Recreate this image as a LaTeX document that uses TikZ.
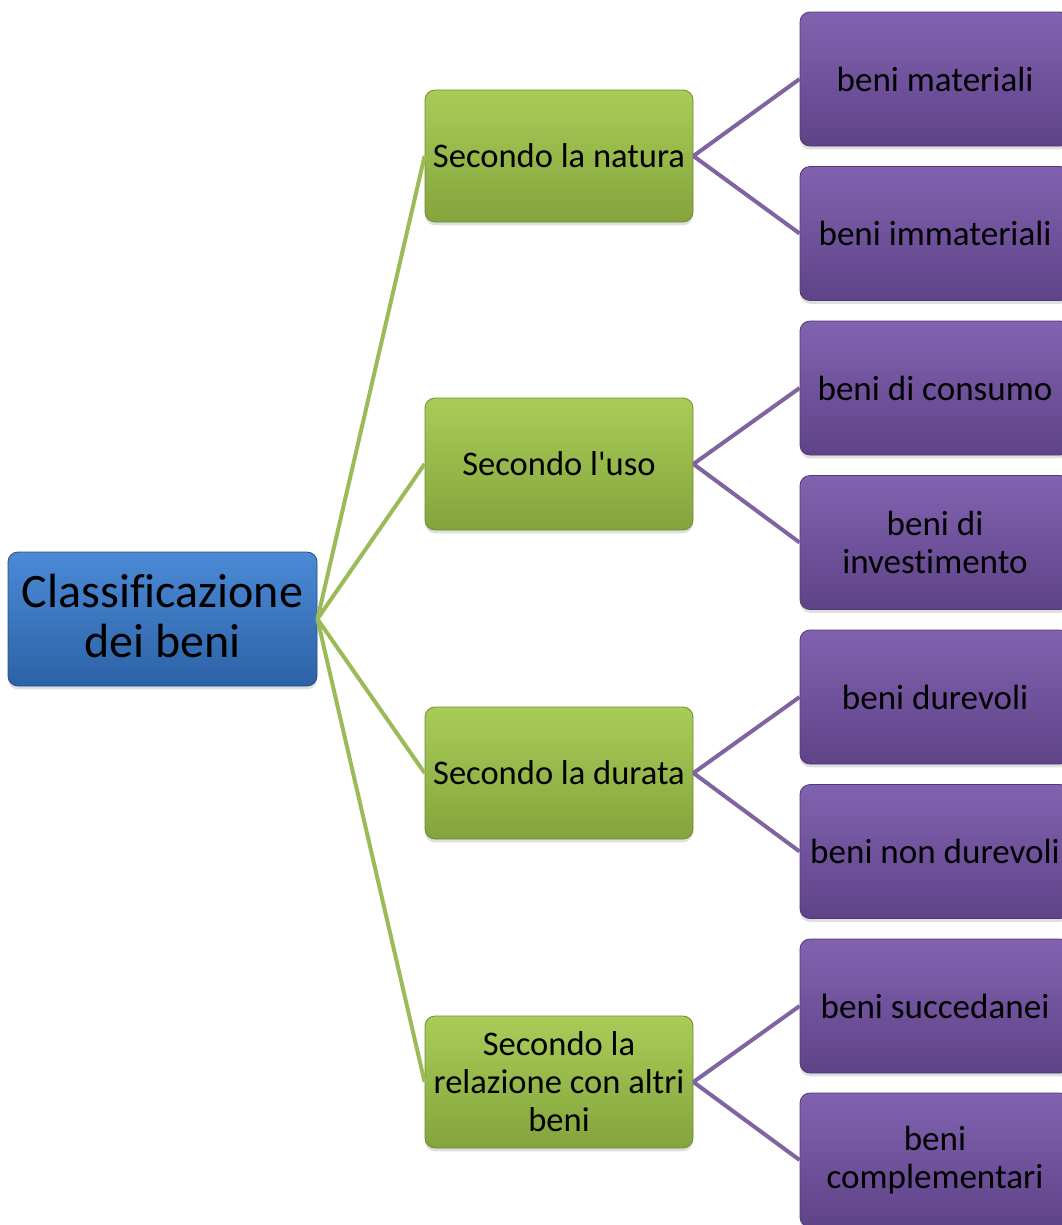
\documentclass[tikz,border=0pt]{standalone}
\usepackage{fontspec}
\setmainfont[Ligatures={NoCommon}]{Carlito}
\usetikzlibrary{shadows}
\definecolor{blueT}{HTML}{4C8AD6}
\definecolor{blueB}{HTML}{2C62A6}
\definecolor{greenT}{HTML}{A9CC58}
\definecolor{greenB}{HTML}{84A43C}
\definecolor{purpT}{HTML}{8162B0}
\definecolor{purpB}{HTML}{5F4388}
\definecolor{greenL}{HTML}{9BBB59}
\definecolor{purpL}{HTML}{8064A2}
\tikzset{
  boxbase/.style={rounded corners=7.5pt, inner sep=2pt, align=center, text=black,
    drop shadow={opacity=0.25, shadow xshift=0pt, shadow yshift=-2.5pt}},
  rootbox/.style={boxbase, top color=blueT, bottom color=blueB, draw=blueB!80!black,
    line width=0.6pt, minimum width=231.75pt, minimum height=100.5pt},
  roottext/.style={align=center, inner sep=0pt, text=black,
    font=\fontsize{36pt}{37.5pt}\selectfont},
  midbox/.style={boxbase, top color=greenT, bottom color=greenB, draw=greenB!85!black,
    line width=0.6pt, minimum width=201pt, minimum height=99pt,
    font=\fontsize{25.9pt}{28.5pt}\selectfont},
  leafbox/.style={boxbase, top color=purpT, bottom color=purpB, draw=purpB!85!black,
    line width=0.6pt, minimum width=202.5pt, minimum height=100.5pt,
    font=\fontsize{26.3pt}{28.5pt}\selectfont},
  glink/.style={draw=greenL, line width=3pt},
  plink/.style={draw=purpL, line width=3pt}
}
\begin{document}
\begin{tikzpicture}[x=0.75pt,y=-0.75pt]
\useasboundingbox (0,0) rectangle (1062,1225);
% root: box, then its text placed slightly above centre
\node[rootbox] (root) at (162.5,619) {};
\node[roottext] (rootlabel) at ([yshift=2pt]root.center) {Classificazione\\dei beni};
% middle
\node[midbox] (m1) at (559,156) {Secondo la natura};
\node[midbox] (m2) at (559,464) {Secondo l\textquotesingle uso};
\node[midbox] (m3) at (559,773) {Secondo la durata};
\node[midbox] (m4) at (559,1082) {Secondo la\\relazione con altri\\beni};
% leaves
\node[leafbox] (l1) at (935,79) {beni materiali};
\node[leafbox] (l2) at (935,233.5) {beni immateriali};
\node[leafbox] (l3) at (935,388) {beni di consumo};
\node[leafbox] (l4) at (935,542.5) {beni di\\investimento};
\node[leafbox] (l5) at (935,697) {beni durevoli};
\node[leafbox] (l6) at (935,851.5) {beni non durevoli};
\node[leafbox] (l7) at (935,1006) {beni succedanei};
\node[leafbox] (l8) at (935,1160) {beni\\complementari};
% links
\foreach \m in {m1,m2,m3,m4}{\path[glink] (root.east) -- (\m.west);}
\path[plink] (m1.east) -- (l1.west);
\path[plink] (m1.east) -- (l2.west);
\path[plink] (m2.east) -- (l3.west);
\path[plink] (m2.east) -- (l4.west);
\path[plink] (m3.east) -- (l5.west);
\path[plink] (m3.east) -- (l6.west);
\path[plink] (m4.east) -- (l7.west);
\path[plink] (m4.east) -- (l8.west);
\end{tikzpicture}
\end{document}
